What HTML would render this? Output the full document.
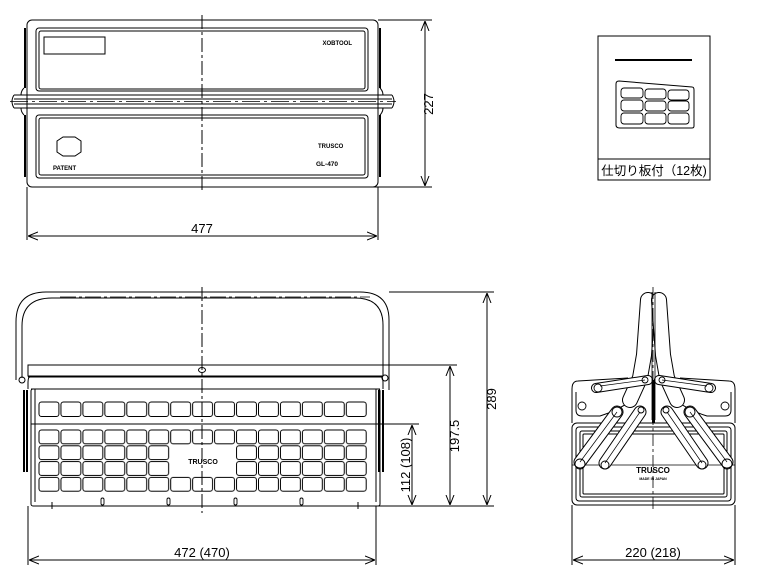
<!DOCTYPE html>
<html><head><meta charset="utf-8"><style>
html,body{margin:0;padding:0;background:#fff;width:784px;height:577px;overflow:hidden}
text{font-family:"Liberation Sans","Noto Sans CJK JP",sans-serif;fill:#000}
</style></head><body>
<svg width="784" height="577" viewBox="0 0 784 577" xmlns="http://www.w3.org/2000/svg" fill="none" stroke="#000" stroke-width="1">
<defs>
<pattern id="c1" x="38" y="401" width="21.95" height="17" patternUnits="userSpaceOnUse">
<rect x="1" y="1" width="19.9" height="14.5" rx="2.5" stroke="#000" fill="none"/></pattern>
<pattern id="c2" x="38" y="429" width="21.95" height="15.8" patternUnits="userSpaceOnUse">
<rect x="1" y="1" width="19.9" height="13.8" rx="2.5" stroke="#000" fill="none"/></pattern>
<marker id="a" viewBox="0 0 10 10" refX="10" refY="5" markerWidth="10" markerHeight="10" orient="auto-start-reverse" markerUnits="userSpaceOnUse"><path d="M0,1 L10,5 L0,9" stroke="#000" fill="none"/></marker>
</defs>

<!-- ===== TOP VIEW ===== -->
<rect x="27" y="20" width="351" height="167" rx="5"/>
<rect x="36" y="28" width="332" height="63" rx="3"/>
<rect x="39" y="31" width="326" height="58" rx="2"/>
<rect x="44" y="37" width="61" height="17"/>
<text x="352" y="45" font-size="6" font-weight="bold" stroke="none" text-anchor="end">XOBTOOL</text>
<rect x="36" y="115" width="332" height="63" rx="3"/>
<rect x="39" y="118" width="326" height="57" rx="2"/>
<path d="M57,141 l6,-4 h12 l6,4 v11 l-6,4 h-12 l-6,-4z"/>
<text x="53" y="170" font-size="6" font-weight="bold" stroke="none">PATENT</text>
<text x="318" y="148" font-size="6" font-weight="bold" stroke="none">TRUSCO</text>
<text x="316" y="166" font-size="6.5" font-weight="bold" stroke="none">GL-470</text>
<path d="M14,95 H392 M14,99 H392 M14,104 H392 M14,108 H392" stroke-width="0.9"/>
<path d="M10,101.5 H396" stroke-dasharray="18 4 3 4" stroke-width="0.8"/>
<path d="M14,95 q-4,6.5 0,13 M392,95 q4,6.5 0,13"/>
<path d="M24,88 q-3,3 -3,7 M24,115 q-3,-3 -3,-7 M380,88 q3,3 3,7 M380,115 q3,-3 3,-7"/>
<path d="M25,28 v60 M25,115 v62 M380,28 v60 M380,115 v62" stroke-width="2"/>
<path d="M202,15 V190" stroke-dasharray="14 3 3 3"/>
<path d="M378,20 H432 M352,187 H432"/>
<path d="M425,21 V186" marker-start="url(#a)" marker-end="url(#a)"/>
<text x="0" y="0" font-size="13" stroke="none" transform="translate(433,104) rotate(-90)" text-anchor="middle">227</text>
<path d="M27,187 V240 M378,187 V240"/>
<path d="M28,236 H377" marker-start="url(#a)" marker-end="url(#a)"/>
<text x="202" y="233" font-size="13" stroke="none" text-anchor="middle">477</text>

<!-- ===== PARTITION BOX ===== -->
<rect x="598" y="36" width="112" height="144"/>
<path d="M598,159 H710"/>
<path d="M615,60 H692" stroke-width="2"/>
<path d="M619,81 L692,87 Q694,87 694,90 V126 Q694,128 692,128 H620 Q616,128 616,125 V84 Q616,81 619,81Z"/>
<g stroke-width="0.9">
<rect x="621" y="88" width="22" height="10" rx="3"/><rect x="645" y="89" width="21" height="10" rx="3"/><rect x="668" y="90" width="21" height="10" rx="3"/>
<rect x="621" y="100" width="22" height="11" rx="3"/><rect x="645" y="101" width="21" height="10" rx="3"/><rect x="668" y="101" width="21" height="10" rx="3"/>
<rect x="621" y="113" width="22" height="11" rx="3"/><rect x="645" y="113" width="21" height="11" rx="3"/><rect x="668" y="113" width="21" height="11" rx="3"/>
</g>
<text x="654" y="175" font-size="12.5" stroke="none" text-anchor="middle">仕切り板付（12枚)</text>

<!-- ===== FRONT VIEW ===== -->
<path d="M16,380 V322 Q16,292 46,292 H360 Q389,292 389,320 V370"/>
<path d="M22,378 V326 Q22,298 52,298 H355 Q383,298 383,325 V370"/>
<path d="M60,297 H370" stroke-dasharray="16 3 3 3" stroke-width="0.8"/>
<rect x="28" y="365" width="355" height="11"/>
<path d="M28,377 H383 M31,389 H380"/>
<path d="M30,377 Q28,377 28,383 V389 M381,377 Q383,377 383,383 V389"/>
<ellipse cx="202" cy="370" rx="3.5" ry="2.5"/>
<rect x="31" y="389" width="349" height="117" rx="2"/>
<path d="M35,389 V502 M376,389 V502"/>
<rect x="38" y="401" width="329.3" height="17" fill="url(#c1)" stroke="none"/>
<path d="M31,424 H380"/>
<rect x="38" y="429" width="329.3" height="63.2" fill="url(#c2)" stroke="none"/>
<rect x="170" y="445" width="66" height="31" fill="#fff" stroke="none"/>
<text x="203" y="464" font-size="7" font-weight="bold" stroke="none" text-anchor="middle">TRUSCO</text>
<g stroke-width="0.9"><rect x="101" y="498" width="3" height="7" rx="1.5"/><rect x="167" y="498" width="3" height="7" rx="1.5"/><rect x="234" y="498" width="3" height="7" rx="1.5"/><rect x="300" y="498" width="3" height="7" rx="1.5"/></g>
<path d="M45,506 h20 M345,506 h20 M52,502 v7 M358,502 v7"/>
<path d="M389,370 v20"/>
<path d="M24,390 V472 M27,390 V472 M379,390 V472 M383,390 V472" stroke-width="2"/>
<circle cx="22" cy="380" r="3"/><circle cx="385" cy="378" r="3"/>
<path d="M202,287 V513" stroke-dasharray="14 3 3 3"/>
<path d="M389,292 H494 M383,365 H457 M376,424 H419 M365,506 H494"/>
<path d="M487,293 V505" marker-start="url(#a)" marker-end="url(#a)"/>
<text font-size="13" stroke="none" transform="translate(496,399) rotate(-90)" text-anchor="middle">289</text>
<path d="M450,366 V505" marker-start="url(#a)" marker-end="url(#a)"/>
<text font-size="13" stroke="none" transform="translate(459,436) rotate(-90)" text-anchor="middle">197.5</text>
<path d="M412,425 V505" marker-start="url(#a)" marker-end="url(#a)"/>
<text font-size="13" stroke="none" transform="translate(410,465) rotate(-90)" text-anchor="middle">112 (108)</text>
<path d="M28,506 V565 M376,506 V565"/>
<path d="M29,560 H375" marker-start="url(#a)" marker-end="url(#a)"/>
<text x="202" y="557" font-size="13" stroke="none" text-anchor="middle">472 (470)</text>

<!-- ===== SIDE VIEW ===== -->
<path d="M572,389 Q572,381 578,381 L628,378 M735,389 Q735,381 729,381 L680,378"/>
<path d="M572,389 V423 M735,389 V423"/>
<path d="M576,392 V410 Q576,416 582,416 L600,416 Q620,410 640,395 M731,392 V410 Q731,416 725,416 L707,416 Q687,410 668,395"/>
<rect x="572" y="423" width="163" height="82" rx="5"/>
<rect x="576" y="427" width="155" height="74" rx="3"/>
<rect x="580" y="431" width="147" height="66" rx="2"/>
<rect x="583" y="434" width="141" height="60" rx="1"/>
<path d="M572,465 H735" stroke-width="0.8"/>
<g stroke-linecap="round">
<path d="M648,300 L644,355 L640,378 L630,400" stroke="#000" stroke-width="16"/>
<path d="M648,300 L644,355 L640,378 L630,400" stroke="#fff" stroke-width="14"/>
<path d="M659,300 L663,355 L667,378 L677,400" stroke="#000" stroke-width="16"/>
<path d="M659,300 L663,355 L667,378 L677,400" stroke="#fff" stroke-width="14"/>
<path d="M596,388 L648,380" stroke="#000" stroke-width="10"/><path d="M596,388 L648,380" stroke="#fff" stroke-width="8"/>
<path d="M711,388 L659,380" stroke="#000" stroke-width="10"/><path d="M711,388 L659,380" stroke="#fff" stroke-width="8"/>
<path d="M617,412 L580,462" stroke="#000" stroke-width="13"/><path d="M617,412 L580,462" stroke="#fff" stroke-width="11"/>
<path d="M640,412 L605,463" stroke="#000" stroke-width="13"/><path d="M640,412 L605,463" stroke="#fff" stroke-width="11"/>
<path d="M667,412 L702,463" stroke="#000" stroke-width="13"/><path d="M667,412 L702,463" stroke="#fff" stroke-width="11"/>
<path d="M690,412 L727,462" stroke="#000" stroke-width="13"/><path d="M690,412 L727,462" stroke="#fff" stroke-width="11"/>
</g>
<path d="M617,412 L580,462 M640,412 L605,463 M667,412 L702,463 M690,412 L727,462 M600,386 L645,380 M707,386 L662,380" stroke-width="0.7"/>
<path d="M652,292 V420 M655,292 V420" stroke-width="0.8"/>
<path d="M653.5,380 V423" stroke-width="3"/>
<g stroke-width="0.9"><circle cx="598" cy="388" r="4"/><circle cx="709" cy="388" r="4"/><circle cx="582" cy="406" r="4"/><circle cx="725" cy="406" r="4"/>
<circle cx="617" cy="412" r="5"/><circle cx="690" cy="412" r="5"/><circle cx="641" cy="410" r="3"/><circle cx="666" cy="410" r="3"/>
<circle cx="645" cy="380" r="3"/><circle cx="662" cy="380" r="3"/>
<circle cx="580" cy="464" r="5"/><circle cx="727" cy="464" r="5"/><circle cx="605" cy="465" r="4"/><circle cx="702" cy="465" r="4"/></g>
<text x="653" y="473" font-size="8" font-weight="bold" stroke="none" text-anchor="middle">TRUSCO</text>
<text x="653" y="480" font-size="3.5" font-weight="bold" stroke="none" text-anchor="middle">MADE IN JAPAN</text>
<path d="M653,287 V510" stroke-dasharray="12 3 3 3" stroke-width="0.8"/>
<path d="M590,505 h15 M700,505 h15"/>
<path d="M572,505 V565 M735,505 V565"/>
<path d="M573,560 H734" marker-start="url(#a)" marker-end="url(#a)"/>
<text x="653" y="557" font-size="13" stroke="none" text-anchor="middle">220 (218)</text>
</svg>
</body></html>
